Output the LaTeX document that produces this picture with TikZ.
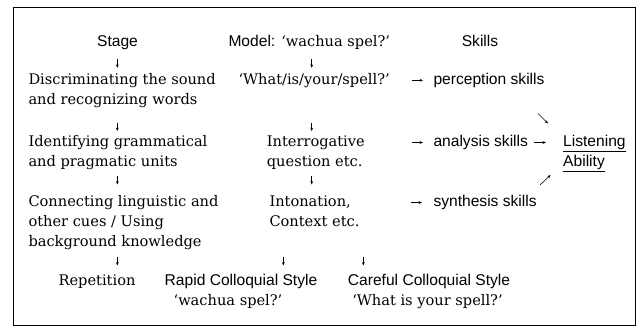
\documentclass[tikz,border=0pt]{standalone}
\usepackage{fontspec}
\setmainfont{DejaVu Serif}
\setsansfont{Liberation Sans}
\usetikzlibrary{arrows.meta}
\newcommand{\sfsize}{\fontsize{15.6}{18}\selectfont}
\newcommand{\rmsize}{\fontsize{14.6}{18}\selectfont}
\begin{document}
\begin{tikzpicture}[x=1pt,y=-1pt,
  sf/.style={font=\sffamily\sfsize, inner sep=0pt, anchor=base west},
  rm/.style={font=\rmfamily\rmsize, inner sep=0pt, anchor=base west},
  ctr/.style={anchor=base},
  arr/.style={-{Stealth[length=3.4pt,width=2.8pt]}, line width=0.55pt}]
\useasboundingbox (0,0) rectangle (642,330);
\node[draw, line width=1pt, minimum width=622pt, minimum height=318pt, anchor=north west, inner sep=0pt] (frame) at (13,7) {};

% header row
\node[sf,ctr] (stage) at (117.5,46.7) {Stage};
\node[rm] (model) at (228.3,46.7) {{\sffamily\sfsize Model:}\hspace{6pt}‘wachua spel?’};
\node[sf,ctr] (skills) at (480,46.7) {Skills};

% left column
\node[rm] (l1a) at (28.3,84.3) {Discriminating the sound};
\node[rm] (l1b) at (28.3,104.5) {and recognizing words};
\node[rm] (l2a) at (28.3,146.7) {Identifying grammatical};
\node[rm] (l2b) at (28.3,166.5) {and pragmatic units};
\node[rm] (l3a) at (28.3,206.7) {Connecting linguistic and};
\node[rm] (l3b) at (28.3,226.7) {other cues / Using};
\node[rm] (l3c) at (28.3,246.5) {background knowledge};

% middle column
\node[rm] (m1) at (238.3,84.3) {‘What/is/your/spell?’};
\node[rm] (m2a) at (266.7,146.7) {Interrogative};
\node[rm] (m2b) at (266.7,166.5) {question etc.};
\node[rm] (m3a) at (269.3,206.7) {Intonation,};
\node[rm] (m3b) at (269.3,226.7) {Context etc.};

% right column
\node[sf] (s1) at (433.3,84.3) {perception skills};
\node[sf] (s2) at (433.3,146.7) {analysis skills};
\node[sf] (s3) at (433.3,206.7) {synthesis skills};
\node[sf] (la1) at (563,146.7) {\underline{Listening}};
\node[sf] (la2) at (563,166.5) {\underline{Ability}};

% bottom row
\node[rm,ctr] (rep) at (97,285) {Repetition};
\node[sf,ctr] (rapid) at (241,285) {Rapid Colloquial Style};
\node[rm,ctr] (rapidq) at (228,305) {‘wachua spel?’};
\node[sf,ctr] (care) at (429,285) {Careful Colloquial Style};
\node[rm,ctr] (careq) at (427.5,305) {‘What is your spell?’};

% arrow coordinates
\coordinate (a1s) at (117.3,59.3);  \coordinate (a1e) at (117.3,67.8);
\coordinate (a2s) at (311.7,59.3);  \coordinate (a2e) at (311.7,67.8);
\coordinate (a3s) at (117.3,122.5); \coordinate (a3e) at (117.3,131);
\coordinate (a4s) at (311.7,122.5); \coordinate (a4e) at (311.7,131);
\coordinate (a5s) at (117.3,176);   \coordinate (a5e) at (117.3,184.5);
\coordinate (a6s) at (311.7,176);   \coordinate (a6e) at (311.7,184.5);
\coordinate (a7s) at (117.3,257);   \coordinate (a7e) at (117.3,265.5);
\coordinate (a8s) at (283.3,257);   \coordinate (a8e) at (283.3,265.5);
\coordinate (a9s) at (363.3,257);   \coordinate (a9e) at (363.3,265.5);
\coordinate (h1s) at (411.7,80.3);  \coordinate (h1e) at (423,80.3);
\coordinate (h2s) at (411.7,142.5); \coordinate (h2e) at (423,142.5);
\coordinate (h3s) at (410.5,202.5); \coordinate (h3e) at (422,202.5);
\coordinate (h4s) at (534,142.5);   \coordinate (h4e) at (546,142.5);
\coordinate (d1s) at (538,113.5);   \coordinate (d1e) at (548,123.5);
\coordinate (d2s) at (540,185);     \coordinate (d2e) at (550.5,175);

\foreach \a in {a1,a2,a3,a4,a5,a6,a7,a8,a9,h1,h2,h3,h4,d1,d2}
  \draw[arr] (\a s) -- (\a e);
\end{tikzpicture}
\end{document}
